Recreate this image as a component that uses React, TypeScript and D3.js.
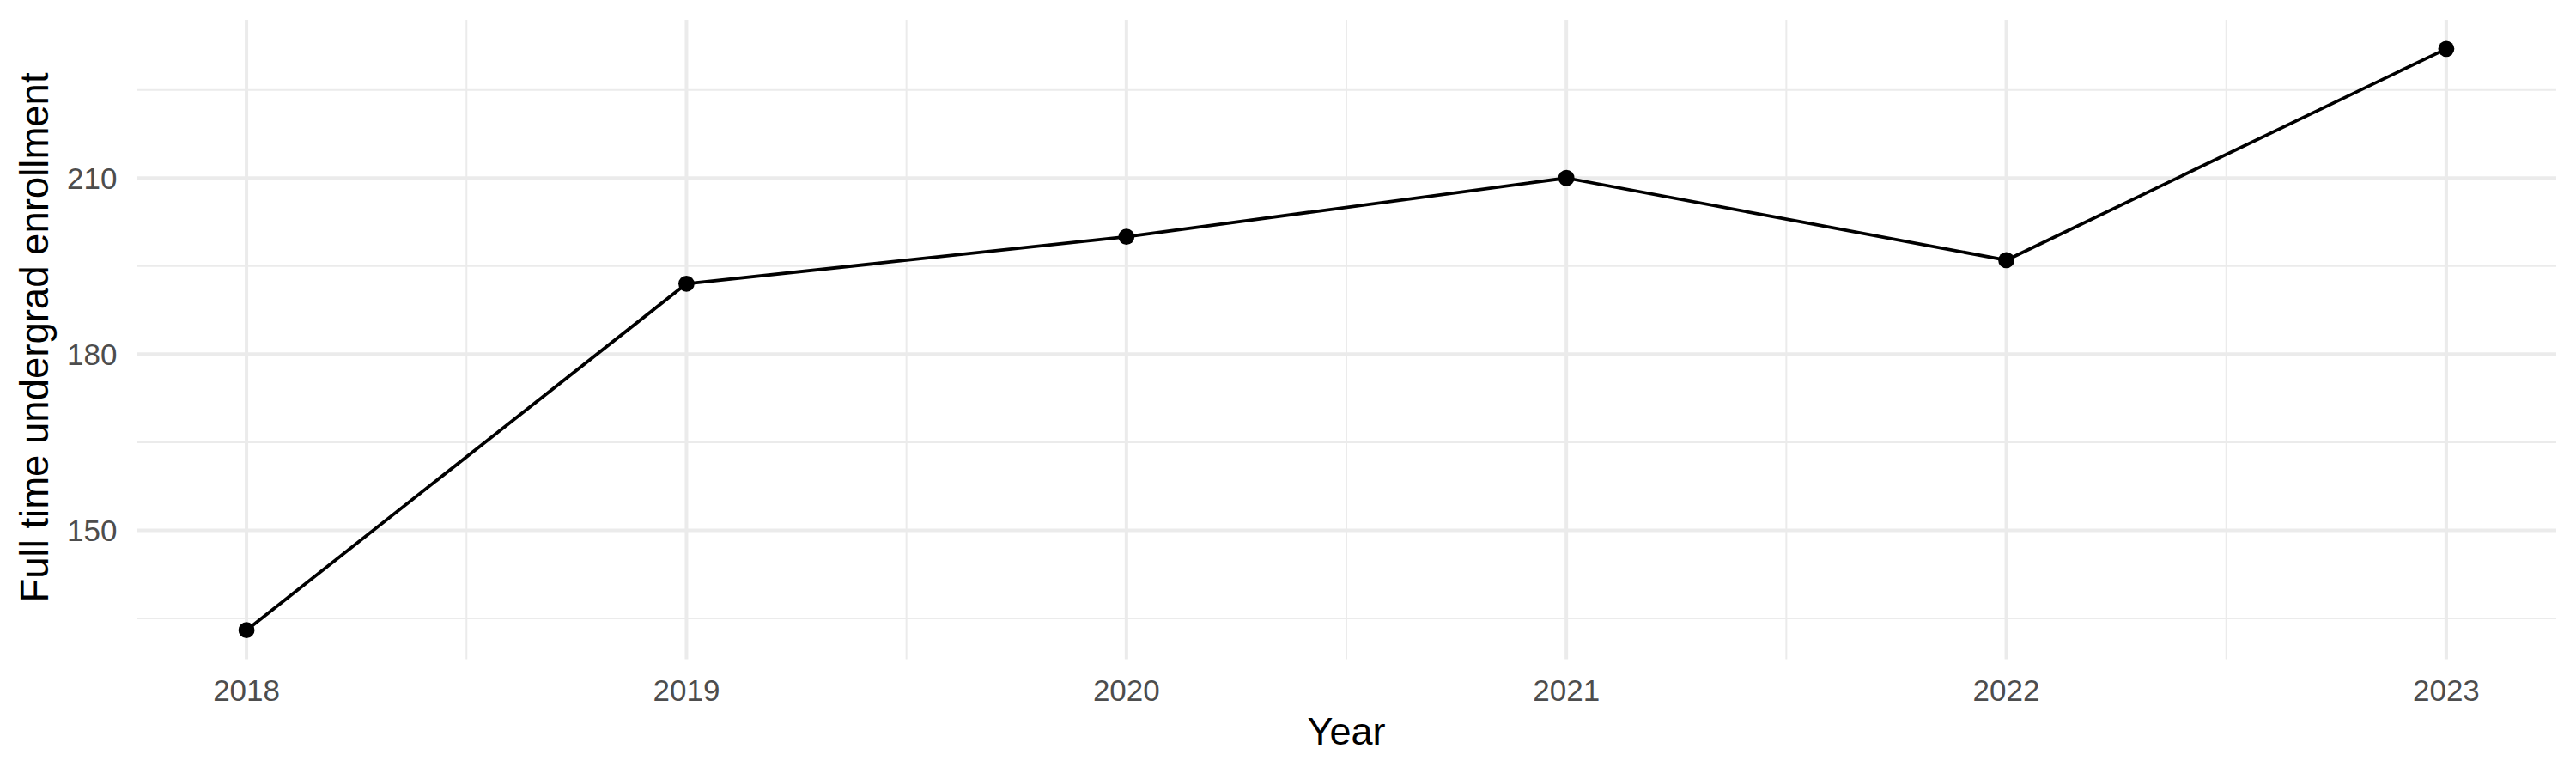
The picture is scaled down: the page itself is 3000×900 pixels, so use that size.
import React from "react";
import * as d3 from "d3";

const years: number[] = [2018, 2019, 2020, 2021, 2022, 2023];
const enrollment: number[] = [133, 192, 200, 210, 196, 232];
const yTicks: number[] = [150, 180, 210];
const yMinor: number[] = [135, 165, 195, 225];
const xMinor: number[] = [2018.5, 2019.5, 2020.5, 2021.5, 2022.5];
const xTitle = "Year";
const yTitle = "Full time undergrad enrollment";

const W = 3000;
const H = 900;
const panel = { left: 159, right: 2977, top: 23, bottom: 767.5 };
const FONT = "'Liberation Sans', Arial, Helvetica, sans-serif";
const GRID = "#EBEBEB";

export default function App() {
  const xExt = d3.extent(years) as [number, number];
  const xPad = (xExt[1] - xExt[0]) * 0.05;
  const x = d3
    .scaleLinear()
    .domain([xExt[0] - xPad, xExt[1] + xPad])
    .range([panel.left, panel.right]);
  const yExt = d3.extent(enrollment) as [number, number];
  const yPad = (yExt[1] - yExt[0]) * 0.05;
  const y = d3
    .scaleLinear()
    .domain([yExt[0] - yPad, yExt[1] + yPad])
    .range([panel.bottom, panel.top]);

  const pts = years.map((yr, i) => [yr, enrollment[i]] as [number, number]);
  const line = d3
    .line<[number, number]>()
    .x((d) => x(d[0]))
    .y((d) => y(d[1]));

  return (
    <svg
      width={W}
      height={H}
      style={{ position: "absolute", left: 0, top: 0, display: "block", background: "#fff" }}
      fontFamily={FONT}
    >
      <rect x={0} y={0} width={W} height={H} fill="#fff" />
      {yMinor.map((v) => (
        <line key={"ym" + v} x1={panel.left} x2={panel.right} y1={y(v)} y2={y(v)} stroke={GRID} strokeWidth={2} />
      ))}
      {xMinor.map((v) => (
        <line key={"xm" + v} x1={x(v)} x2={x(v)} y1={panel.top} y2={panel.bottom} stroke={GRID} strokeWidth={2} />
      ))}
      {yTicks.map((v) => (
        <line key={"yM" + v} x1={panel.left} x2={panel.right} y1={y(v)} y2={y(v)} stroke={GRID} strokeWidth={4} />
      ))}
      {years.map((v) => (
        <line key={"xM" + v} x1={x(v)} x2={x(v)} y1={panel.top} y2={panel.bottom} stroke={GRID} strokeWidth={4} />
      ))}
      <path d={line(pts) || ""} fill="none" stroke="#000" strokeWidth={3.8} strokeLinejoin="round" />
      {pts.map((d, i) => (
        <circle key={"p" + i} cx={x(d[0])} cy={y(d[1])} r={9.4} fill="#000" />
      ))}
      {yTicks.map((v) => (
        <text key={"yl" + v} x={136.5} y={y(v)} dy="0.36em" textAnchor="end" fontSize={35} fill="#4D4D4D">
          {v}
        </text>
      ))}
      {years.map((v) => (
        <text key={"xl" + v} x={x(v)} y={815.5} textAnchor="middle" fontSize={35} fill="#4D4D4D">
          {v}
        </text>
      ))}
      <text x={(panel.left + panel.right) / 2} y={867} textAnchor="middle" fontSize={45} fill="#000">
        {xTitle}
      </text>
      <text
        transform={`translate(55.5, 393) rotate(-90)`}
        textAnchor="middle"
        fontSize={45.5}
        fill="#000"
      >
        {yTitle}
      </text>
    </svg>
  );
}
